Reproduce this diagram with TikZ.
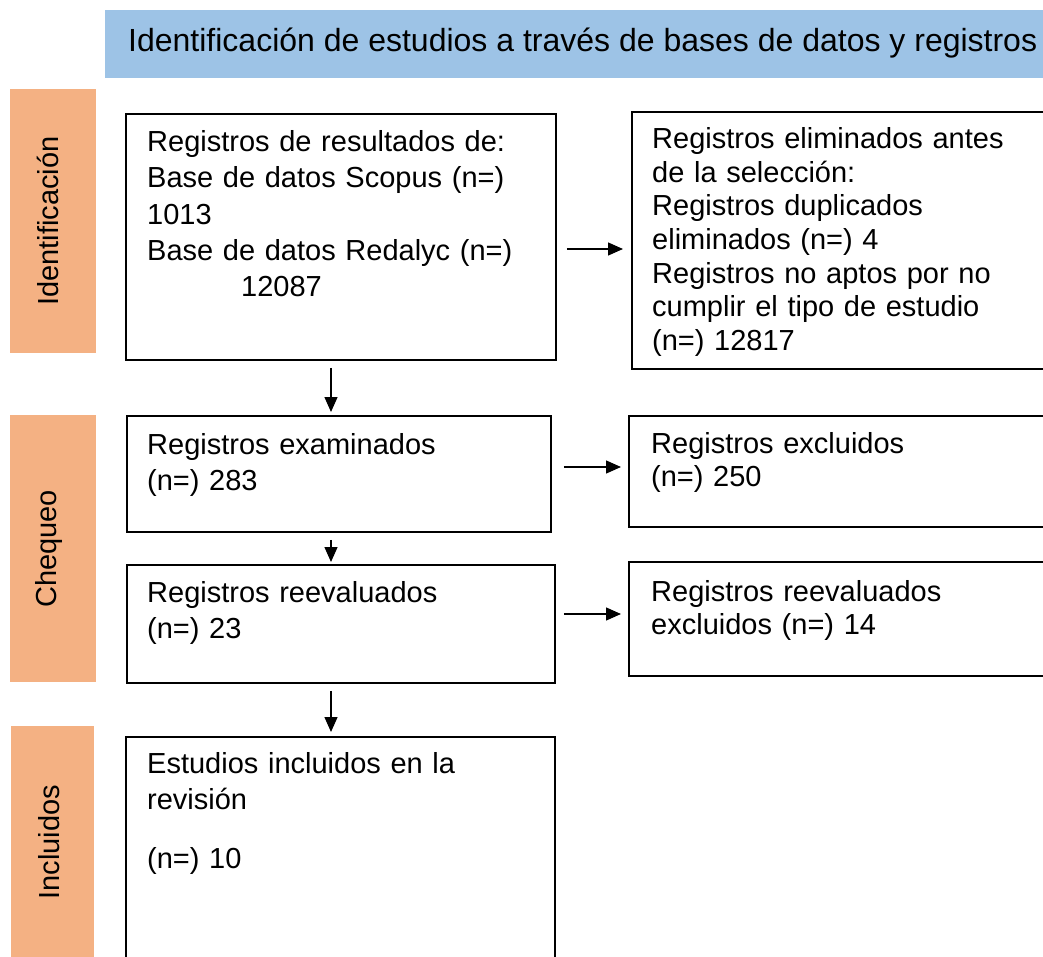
\documentclass[tikz,border=0pt]{standalone}
\usepackage{fontspec}
\setmainfont{Liberation Sans}
\usetikzlibrary{arrows.meta}
\definecolor{hdrblue}{HTML}{9DC3E6}
\definecolor{phaseor}{HTML}{F4B183}
\tikzset{
  boxn/.style={draw=black, line width=1.8pt, fill=white, anchor=north west, inner sep=0pt},
  phase/.style={fill=phaseor, draw=none, anchor=north west, inner sep=0pt},
  lefttxt/.style={anchor=base west, inner sep=0pt, text width=400pt, align=left, font=\fontsize{29}{36.3}\selectfont},
  righttxt/.style={anchor=base west, inner sep=0pt, text width=400pt, align=left, font=\fontsize{29}{33.7}\selectfont},
  phtxt/.style={rotate=90, inner sep=0pt, font=\fontsize{29}{34}\selectfont},
  arr/.style={line width=1.3pt, -{Triangle[length=15pt,width=13pt]}}
}
\begin{document}
\begin{tikzpicture}[x=1pt,y=-1pt]
\useasboundingbox (0,0) rectangle (1043,957);
\clip (0,0) rectangle (1043,957);
% header
\node[fill=hdrblue, draw=none, anchor=north west, inner sep=0pt, minimum width=960pt, minimum height=68pt] (hdr) at (105,10) {};
\node[anchor=base west, inner sep=0pt, font=\fontsize{32}{38}\selectfont] (hdrt) at (128,52) {Identificación de estudios a través de bases de datos y registros};
% phase labels
\node[phase, minimum width=86pt, minimum height=264pt] (oid) at (10,89) {};
\node[phtxt] (oidt) at ([xshift=-5pt]oid.center) {Identificación};
\node[phase, minimum width=86pt, minimum height=267pt] (och) at (10,415) {};
\node[phtxt] (ocht) at ([xshift=-4pt]och.center) {Chequeo};
\node[phase, minimum width=83pt, minimum height=232pt] (oin) at (11,726) {};
\node[phtxt] (oint) at ([xshift=-4pt]oin.center) {Incluidos};
% main boxes
\node[boxn, minimum width=430pt, minimum height=246pt] (b1) at (125,113) {};
\node[boxn, minimum width=424pt, minimum height=116pt] (b2) at (126,415) {};
\node[boxn, minimum width=428pt, minimum height=118pt] (b3) at (126,564) {};
\node[boxn, minimum width=429pt, minimum height=240pt] (b4) at (125,736) {};
% side boxes
\node[boxn, minimum width=440pt, minimum height=257pt] (r1) at (631,111) {};
\node[boxn, minimum width=440pt, minimum height=111pt] (r2) at (628,415) {};
\node[boxn, minimum width=440pt, minimum height=114pt] (r3) at (628,561) {};
% texts
\node[lefttxt] (b1t) at (147,151.5) {Registros de resultados de:\\Base de datos Scopus (n=)\\1013\\Base de datos Redalyc (n=)\\\hspace*{94pt}12087};
\node[lefttxt] (b2t) at (147,454) {Registros examinados\\(n=) 283};
\node[lefttxt] (b3t) at (147,602) {Registros reevaluados\\(n=) 23};
\node[lefttxt] (b4t) at (147,773) {Estudios incluidos en la\\revisión\\[23pt](n=) 10};
\node[righttxt] (r1t) at (652,148.5) {Registros eliminados antes\\de la selección:\\Registros duplicados\\eliminados (n=) 4\\Registros no aptos por no\\cumplir el tipo de estudio\\(n=) 12817};
\node[righttxt] (r2t) at (651,453) {Registros excluidos\\(n=) 250};
\node[righttxt] (r3t) at (651,601) {Registros reevaluados\\excluidos (n=) 14};
% connectors
\coordinate (vx) at (331,0);
\coordinate (h1) at (0,249);
\coordinate (h2) at (0,467);
\coordinate (h3) at (0,614);
\draw[arr, shorten <=7pt, shorten >=3pt] (b1.south -| vx) -- (b2.north -| vx);
\draw[arr, shorten <=7pt, shorten >=2pt] (b2.south -| vx) -- (b3.north -| vx);
\draw[arr, shorten <=7pt, shorten >=4pt] (b3.south -| vx) -- (b4.north -| vx);
\draw[arr, shorten <=10pt, shorten >=8pt] (b1.east |- h1) -- (r1.west |- h1);
\draw[arr, shorten <=12pt, shorten >=7pt] (b2.east |- h2) -- (r2.west |- h2);
\draw[arr, shorten <=8pt, shorten >=7pt] (b3.east |- h3) -- (r3.west |- h3);
\end{tikzpicture}
\end{document}
